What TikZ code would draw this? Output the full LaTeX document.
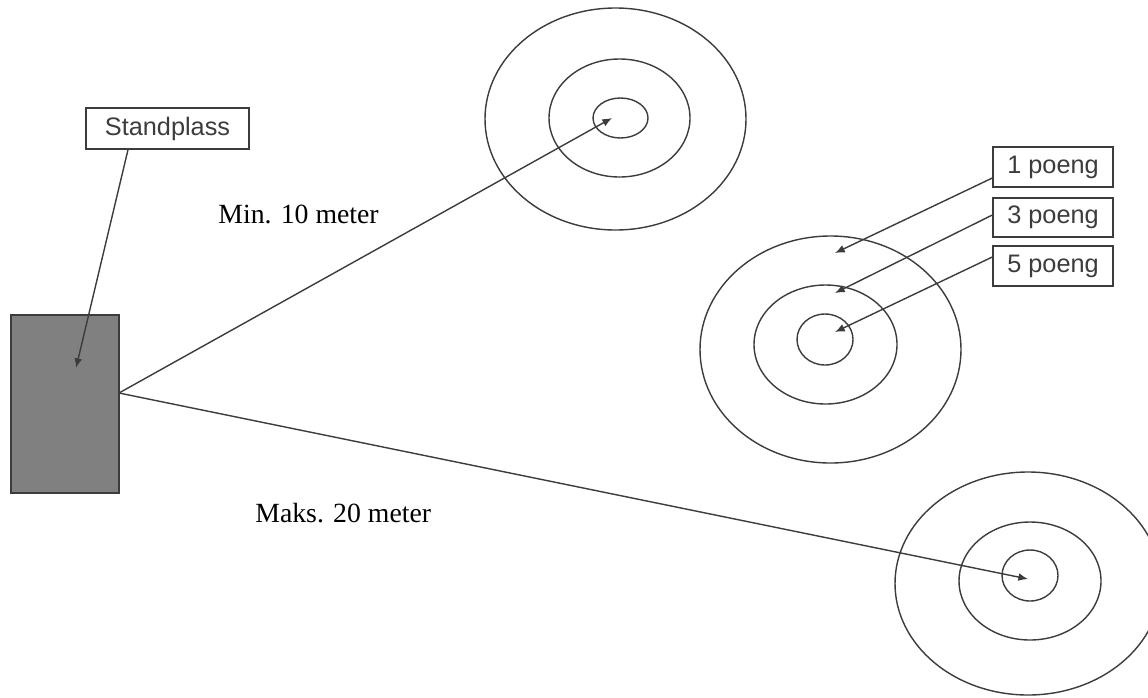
\documentclass[tikz,border=0pt]{standalone}
\usepackage{fontspec}
\setmainfont{Liberation Serif}
\setsansfont{Liberation Sans}
\usetikzlibrary{arrows.meta}
\definecolor{inkgray}{RGB}{60,60,60}
\definecolor{standgray}{RGB}{128,128,128}
\tikzset{
    ring/.style={draw=inkgray, line width=0.8pt},
    labelbox/.style={draw=inkgray, line width=0.8pt, fill=white, inner sep=0pt,
        font=\sffamily\fontsize{14.4}{17}\selectfont, text=inkgray},
    pointer/.style={draw=inkgray, line width=0.8pt, -{Latex[length=5.5pt,width=4.5pt]}},
    distlabel/.style={font=\fontsize{15.8}{19}\selectfont, text=black, inner sep=0pt}
}
\begin{document}
\begin{tikzpicture}[x=0.02cm, y=-0.02cm]
    \useasboundingbox (0,0) rectangle (1148,697);

    % Draw Standplass
    \node[draw=inkgray, line width=0.8pt, fill=standgray, minimum width=2.16cm,
        minimum height=3.56cm, inner sep=0pt] (stand) at (65,404) {};
    \node[labelbox, minimum width=3.26cm, minimum height=0.82cm] (standlabel) at (167.5,128.5) {Standplass};
    \coordinate (standaim) at (76,368);
    \draw[pointer] ([xshift=-0.79cm]standlabel.south) -- (standaim);

    % Draw Targets (outer, middle, inner ring)
    \draw[ring] (615.5,119) ellipse [x radius=130.5, y radius=111];
    \draw[ring] (619.5,118) ellipse [x radius=70.5, y radius=59];
    \draw[ring] (620.5,118) ellipse [x radius=27.5, y radius=20];

    \draw[ring] (830.5,349.5) ellipse [x radius=130.5, y radius=113.5];
    \draw[ring] (825.5,344.5) ellipse [x radius=71.5, y radius=59.5];
    \draw[ring] (825,339.5) ellipse [x radius=28, y radius=25.5];

    \draw[ring] (1028,583.5) ellipse [x radius=133, y radius=111.5];
    \draw[ring] (1030,581) ellipse [x radius=71, y radius=59];
    \draw[ring] (1030,575.5) ellipse [x radius=28, y radius=25.5];

    % Draw Throwing Lines
    \coordinate (throw) at (119,393);
    \coordinate (nearaim) at (612,118);
    \coordinate (faraim) at (1028,579);
    \draw[pointer] (throw) -- (nearaim);
    \draw[pointer] (throw) -- (faraim);
    \node[distlabel, anchor=base west] (mintext) at (218,223) {Min. 10 meter};
    \node[distlabel, anchor=base west] (makstext) at (255,522) {Maks. 20 meter};

    % Draw Point Labels
    \node[labelbox, minimum width=2.4cm, minimum height=0.8cm] (p1) at (1053,167) {1 poeng};
    \node[labelbox, minimum width=2.4cm, minimum height=0.78cm] (p3) at (1053,217.5) {3 poeng};
    \node[labelbox, minimum width=2.4cm, minimum height=0.8cm] (p5) at (1053,266) {5 poeng};
    \coordinate (aim1) at (835,253);
    \coordinate (aim3) at (835,293);
    \coordinate (aim5) at (835,332);
    \draw[pointer] ([yshift=-0.22cm]p1.west) -- (aim1);
    \draw[pointer] ([yshift=0.05cm]p3.west) -- (aim3);
    \draw[pointer] ([yshift=0.18cm]p5.west) -- (aim5);

\end{tikzpicture}
\end{document}
